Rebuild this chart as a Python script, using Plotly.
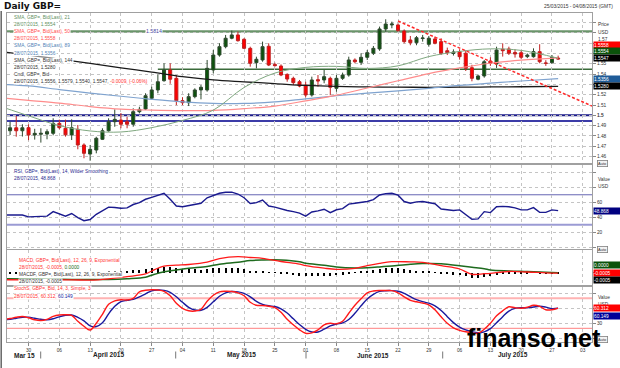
import plotly.graph_objects as go
from plotly.subplots import make_subplots
import pandas as pd

# ---------------- data ----------------
dates = [d.strftime("%Y-%m-%d") for d in pd.bdate_range("2015-03-25", "2015-07-28")]
ind_dates = [d.strftime("%Y-%m-%d") for d in pd.bdate_range("2015-03-24", "2015-07-28")]

open_ = [1.4850, 1.4879, 1.4850, 1.4880, 1.4809, 1.4816, 1.4818, 1.4825, 1.4922, 1.4874,
         1.4809, 1.4864, 1.4712, 1.4624, 1.4663, 1.4767, 1.4850, 1.4938, 1.4954, 1.4938,
         1.4913, 1.5035, 1.5061, 1.5165, 1.5246, 1.5336, 1.5440, 1.5359, 1.5142, 1.5122,
         1.5181, 1.5246, 1.5246, 1.5440, 1.5585, 1.5666, 1.5748, 1.5780, 1.5738, 1.5650,
         1.5511, 1.5537, 1.5670, 1.5494, 1.5478, 1.5397, 1.5359, 1.5326, 1.5294, 1.5197,
         1.5346, 1.5343, 1.5359, 1.5262, 1.5359, 1.5391, 1.5537, 1.5514, 1.5563, 1.5602,
         1.5644, 1.5838, 1.5877, 1.5877, 1.5818, 1.5731, 1.5705, 1.5745, 1.5689, 1.5741,
         1.5715, 1.5627, 1.5600, 1.5618, 1.5602, 1.5462, 1.5350, 1.5382, 1.5527, 1.5498,
         1.5641, 1.5644, 1.5610, 1.5608, 1.5570, 1.5569, 1.5618, 1.5508, 1.5511, 1.5556]
high = [1.4938, 1.4993, 1.4913, 1.4913, 1.4869, 1.4874, 1.4864, 1.4971, 1.4958, 1.4958,
        1.4961, 1.4906, 1.4728, 1.4712, 1.4792, 1.4874, 1.4971, 1.5058, 1.5022, 1.4986,
        1.5068, 1.5083, 1.5214, 1.5278, 1.5395, 1.5505, 1.5505, 1.5390, 1.5175, 1.5214,
        1.5262, 1.5294, 1.5537, 1.5634, 1.5699, 1.5780, 1.5822, 1.5812, 1.5748, 1.5666,
        1.5569, 1.5715, 1.5699, 1.5511, 1.5494, 1.5407, 1.5375, 1.5343, 1.5326, 1.5375,
        1.5391, 1.5440, 1.5375, 1.5391, 1.5414, 1.5569, 1.5553, 1.5602, 1.5634, 1.5673,
        1.5861, 1.5932, 1.5909, 1.5893, 1.5834, 1.5770, 1.5770, 1.5780, 1.5770, 1.5764,
        1.5748, 1.5657, 1.5640, 1.5640, 1.5630, 1.5490, 1.5395, 1.5537, 1.5563, 1.5666,
        1.5699, 1.5666, 1.5640, 1.5630, 1.5600, 1.5650, 1.5690, 1.5535, 1.5585, 1.5579]
low = [1.4809, 1.4792, 1.4794, 1.4759, 1.4764, 1.4735, 1.4767, 1.4806, 1.4864, 1.4793,
       1.4760, 1.4670, 1.4583, 1.4559, 1.4631, 1.4760, 1.4841, 1.4889, 1.4874, 1.4874,
       1.4889, 1.5019, 1.5051, 1.5149, 1.5214, 1.5326, 1.5306, 1.5099, 1.5099, 1.5090,
       1.5165, 1.5155, 1.5230, 1.5408, 1.5569, 1.5650, 1.5738, 1.5715, 1.5644, 1.5472,
       1.5456, 1.5520, 1.5478, 1.5472, 1.5380, 1.5326, 1.5294, 1.5272, 1.5175, 1.5181,
       1.5278, 1.5311, 1.5197, 1.5229, 1.5343, 1.5375, 1.5505, 1.5488, 1.5537, 1.5585,
       1.5626, 1.5812, 1.5845, 1.5812, 1.5699, 1.5680, 1.5680, 1.5715, 1.5666, 1.5689,
       1.5585, 1.5585, 1.5580, 1.5540, 1.5430, 1.5330, 1.5340, 1.5365, 1.5480, 1.5460,
       1.5570, 1.5585, 1.5560, 1.5545, 1.5555, 1.5560, 1.5505, 1.5480, 1.5500, 1.5540]
close = [1.4879, 1.4850, 1.4879, 1.4809, 1.4825, 1.4825, 1.4841, 1.4922, 1.4880, 1.4810,
         1.4880, 1.4712, 1.4631, 1.4670, 1.4777, 1.4850, 1.4938, 1.4961, 1.4913, 1.4913,
         1.5035, 1.5058, 1.5190, 1.5246, 1.5326, 1.5440, 1.5350, 1.5142, 1.5122, 1.5181,
         1.5246, 1.5272, 1.5456, 1.5585, 1.5666, 1.5748, 1.5780, 1.5724, 1.5650, 1.5505,
         1.5544, 1.5666, 1.5488, 1.5482, 1.5391, 1.5352, 1.5317, 1.5284, 1.5197, 1.5343,
         1.5333, 1.5375, 1.5272, 1.5359, 1.5391, 1.5537, 1.5520, 1.5563, 1.5608, 1.5650,
         1.5838, 1.5886, 1.5886, 1.5822, 1.5715, 1.5705, 1.5753, 1.5750, 1.5748, 1.5699,
         1.5602, 1.5608, 1.5615, 1.5569, 1.5456, 1.5359, 1.5382, 1.5520, 1.5505, 1.5634,
         1.5627, 1.5602, 1.5595, 1.5563, 1.5585, 1.5618, 1.5520, 1.5505, 1.5563, 1.5547]

sma_dates = ["2015-03-24", "2015-03-30", "2015-04-06", "2015-04-13", "2015-04-20", "2015-04-27",
             "2015-05-04", "2015-05-11", "2015-05-18", "2015-05-25", "2015-06-01", "2015-06-08",
             "2015-06-15", "2015-06-22", "2015-06-29", "2015-07-06", "2015-07-13", "2015-07-20",
             "2015-07-28"]
sma21 = [1.5075, 1.4995, 1.4900, 1.4848, 1.4838, 1.4880, 1.4950, 1.5050, 1.5270, 1.5410,
         1.5465, 1.5475, 1.5455, 1.5480, 1.5570, 1.5620, 1.5645, 1.5630, 1.5554]
sma50 = [1.5168, 1.5145, 1.5118, 1.5085, 1.5060, 1.5050, 1.5045, 1.5048, 1.5065, 1.5090,
         1.5140, 1.5195, 1.5265, 1.5335, 1.5405, 1.5460, 1.5505, 1.5535, 1.5558]
sma89 = [1.5300, 1.5285, 1.5250, 1.5215, 1.5185, 1.5155, 1.5130, 1.5115, 1.5115, 1.5130,
         1.5160, 1.5190, 1.5215, 1.5238, 1.5262, 1.5290, 1.5312, 1.5333, 1.5356]
sma144 = [1.5615, 1.5585, 1.5545, 1.5505, 1.5460, 1.5420, 1.5375, 1.5343, 1.5325, 1.5308,
          1.5290, 1.5280, 1.5276, 1.5273, 1.5272, 1.5273, 1.5275, 1.5277, 1.5280]

level_green = 1.5814
support_start = "2015-04-28"
support_level = 1.5447
blue_levels = [1.5000, 1.4945]
trend_x = ["2015-06-22", "2015-08-04 12:00"]
trend_y = [1.5915, 1.5090]

rsi = [43, 43, 42, 43, 40.5, 41, 41, 41.5, 47.5, 45, 41.5, 45, 39.5, 35.5, 37, 44, 49, 53.5, 53, 52,
       52.5, 57, 59.5, 64, 66.5, 69.5, 72, 64, 55, 54, 55.5, 57.5, 58.7, 66, 69.5, 72, 73.3, 73.5,
       71, 66, 58.5, 59.5, 63, 55, 53.5, 51, 49, 47.5, 45.5, 41.5, 47, 48.5, 50.7, 46.2, 50, 51.5,
       57.5, 58.7, 59.5, 61, 63.5, 69.7, 71.5, 72, 69.5, 61, 58.7, 60.5, 61, 60, 58, 51, 49.5, 49,
       49.8, 43, 37.3, 37.8, 47.5, 46.2, 54, 54.5, 54, 52.5, 49.8, 49.8, 52.9, 46.7, 46.5, 49.8,
       48.868]
rsi_levels = [70, 30]

macd_dates = ["2015-03-24", "2015-03-30", "2015-04-02", "2015-04-08", "2015-04-13", "2015-04-16",
              "2015-04-21", "2015-04-24", "2015-04-27", "2015-04-29", "2015-05-01", "2015-05-05",
              "2015-05-08", "2015-05-12", "2015-05-15", "2015-05-19", "2015-05-21", "2015-05-26",
              "2015-05-29", "2015-06-01", "2015-06-04", "2015-06-08", "2015-06-11", "2015-06-15",
              "2015-06-17", "2015-06-19", "2015-06-24", "2015-06-26", "2015-07-01", "2015-07-06",
              "2015-07-08", "2015-07-10", "2015-07-13", "2015-07-16", "2015-07-21", "2015-07-24",
              "2015-07-28"]
macd = [-0.0070, -0.0072, -0.0074, -0.0071, -0.0075, -0.0062, -0.0040, -0.0012, 0.0017, 0.0065,
        0.0075, 0.0082, 0.0105, 0.0140, 0.0160, 0.0152, 0.0144, 0.0112, 0.0085, 0.0070, 0.0045,
        0.0034, 0.0044, 0.0070, 0.0094, 0.0110, 0.0108, 0.0104, 0.0070, 0.0037, -0.0016, -0.0010,
        -0.0006, 0.0012, 0.0007, -0.0002, -0.0005]
signal = [-0.0060, -0.0063, -0.0065, -0.0067, -0.0069, -0.0068, -0.0060, -0.0045, -0.0025, 0.0010,
          0.0028, 0.0045, 0.0062, 0.0085, 0.0105, 0.0122, 0.0127, 0.0127, 0.0110, 0.0095, 0.0075,
          0.0058, 0.0048, 0.0050, 0.0058, 0.0068, 0.0085, 0.0092, 0.0090, 0.0070, 0.0055, 0.0040,
          0.0028, 0.0018, 0.0012, 0.0005, 0.0000]
hist = [-0.0010, -0.0010, -0.0008, -0.0010, -0.0012, -0.0012, -0.0010, -0.0005, -0.0005, -0.0006,
        -0.0004, -0.0008, -0.0012, -0.0010, -0.0004, 0.0002, 0.0010, 0.0015, 0.0016, 0.0018,
        0.0025, 0.0030, 0.0038, 0.0044, 0.0050, 0.0057, 0.0055, 0.0045, 0.0038, 0.0035,
        0.0034, 0.0032, 0.0040, 0.0045, 0.0050, 0.0052, 0.0050, 0.0045, 0.0035, 0.0022,
        0.0015, 0.0014, 0.0005, -0.0002, -0.0010, -0.0017, -0.0023, -0.0028, -0.0035, -0.0032,
        -0.0030, -0.0028, -0.0030, -0.0025, -0.0018, -0.0005, 0.0005, 0.0012, 0.0020, 0.0028,
        0.0040, 0.0048, 0.0050, 0.0045, 0.0035, 0.0025, 0.0020, 0.0015, 0.0010, 0.0002,
        -0.0010, -0.0015, -0.0018, -0.0020, -0.0030, -0.0048, -0.0050, -0.0045, -0.0035, -0.0022,
        -0.0012, -0.0008, -0.0006, -0.0006, -0.0004, -0.0002, -0.0005, -0.0006, -0.0004, -0.0005]

stoch_k = [38, 39.5, 42, 43.5, 41, 37, 35.5, 38, 44, 46.7, 47, 46, 34, 24, 16.5, 30, 48, 68, 75, 77,
           76.7, 80, 93, 96, 97, 96.5, 94, 85, 70, 60, 55, 54.5, 58, 74, 86, 93, 94, 93.5, 91, 85,
           72, 66, 65.5, 64, 61.5, 52, 38, 27, 17, 10, 11, 17, 27, 30, 29, 34, 50, 66, 79, 91,
           94.5, 95.5, 95.5, 95.3, 91, 83, 76, 73, 70.5, 67, 57, 43, 30, 21, 16, 13, 11, 10, 18,
           30, 45, 55, 63, 61, 60, 62, 66, 64, 57, 57, 60.312]
stoch_d = [37.5, 38, 40, 42, 42, 40, 38, 37, 39, 43, 46, 46.5, 42, 35, 25, 23.5, 31, 49, 64, 73.5,
           76, 78, 83, 89, 95, 96.5, 95.8, 92, 83, 72, 62, 56.5, 56, 62, 73, 84, 91, 93.5, 92.8,
           90, 83, 74, 68, 65, 63.5, 59, 50.5, 39, 27.5, 18, 12.7, 12.7, 18.3, 24.7, 28.7, 31,
           37.7, 50, 65, 78.7, 88, 93.7, 95.2, 95.4, 94, 89.8, 83.3, 77.3, 73.2, 70.2, 64.8, 55.7,
           43.3, 31.3, 22.3, 16.7, 13.3, 11.3, 13, 19.3, 31, 43.3, 54.3, 59.7, 61.3, 61, 62.7, 64,
           62.3, 59.3, 60.149]
stoch_levels = [80, 20]

mondays = ["2015-03-30", "2015-04-06", "2015-04-13", "2015-04-20", "2015-04-27", "2015-05-04",
           "2015-05-11", "2015-05-18", "2015-05-25", "2015-06-01", "2015-06-08", "2015-06-15",
           "2015-06-22", "2015-06-29", "2015-07-06", "2015-07-13", "2015-07-20", "2015-07-27",
           "2015-08-03"]
day_labels = ["30", "06", "13", "20", "27", "04", "11", "18", "25", "01", "08", "15", "22", "29",
              "06", "13", "20", "27", "03"]
month_labels = ["Mar 15", "April 2015", "May 2015", "June 2015", "July 2015"]

price_ticks = [1.46, 1.47, 1.48, 1.49, 1.50, 1.51, 1.52, 1.53, 1.54, 1.55, 1.56, 1.57, 1.58, 1.59]
price_tick_text = ["1.46", "1.47", "1.48", "1.49", "<b>1.5</b>", "1.51", "1.52", "1.53", "1.54",
                   "1.55", "", "", "", ""]
rsi_ticks = [0, 20, 40, 60, 80, 100]
rsi_tick_text = ["", "20", "40", "60", "", ""]
stoch_ticks = [0, 30, 60, 90]
stoch_tick_text = ["", "30", "", ""]

# ---------------- layout helpers ----------------
W, H = 620, 368
ML, MR, MT, MB = 7, 28, 13, 26
PW, PH = W - ML - MR, H - MT - MB
FONT = "Liberation Sans, Arial, sans-serif"


def px(x):
    return (x - ML) / PW


def py(y):
    return 1 - (y - MT) / PH


fig = make_subplots(rows=4, cols=1, shared_xaxes=True, vertical_spacing=0.01)

# price panel
fig.add_trace(go.Candlestick(
    x=dates, open=open_, high=high, low=low, close=close,
    increasing=dict(fillcolor="#0b520b", line=dict(color="#2f4a2f", width=1)),
    decreasing=dict(fillcolor="#ff0000", line=dict(color="#c02020", width=1)),
    whiskerwidth=0), row=1, col=1)
for vals, col, w in [(sma144, "#1a1a1a", 1.3), (sma89, "#7fa3cf", 1.2),
                     (sma50, "#ff8c8c", 1.2), (sma21, "#80a880", 1.0)]:
    fig.add_trace(go.Scatter(x=sma_dates, y=vals, mode="lines",
                             line=dict(color=col, width=w, shape="spline")), row=1, col=1)
fig.add_trace(go.Scatter(x=trend_x, y=trend_y, mode="lines",
                         line=dict(color="#ff2a2a", width=1.5, dash="3px,2px")), row=1, col=1)

fig.add_shape(type="line", xref="x domain", yref="y", x0=0, x1=1, y0=level_green, y1=level_green,
              line=dict(color="#6b946b", width=2.5), layer="below")
fig.add_shape(type="line", xref="x", yref="y", x0=support_start, x1="2015-08-04 12:00",
              y0=support_level, y1=support_level, line=dict(color="#3a6b3a", width=1.5), layer="below")
for v, c in zip(blue_levels, ["#1c1c8a", "#3c3ca8"]):
    fig.add_shape(type="line", xref="x domain", yref="y", x0=0, x1=1, y0=v, y1=v,
                  line=dict(color=c, width=2), layer="below")

# RSI panel
for v, c, w in zip(rsi_levels, ["#6666b3", "#9b9bd4"], [1, 2]):
    fig.add_shape(type="line", xref="x2 domain", yref="y2", x0=0, x1=1, y0=v, y1=v,
                  line=dict(color=c, width=w), layer="below")
fig.add_trace(go.Scatter(x=ind_dates, y=rsi, mode="lines",
                         line=dict(color="#1a1a8e", width=1.4)), row=2, col=1)

# MACD panel
fig.add_trace(go.Bar(x=dates, y=hist, marker=dict(color="#000000", line=dict(width=0)),
                     width=0.18 * 86400000), row=3, col=1)
fig.add_trace(go.Scatter(x=macd_dates, y=signal, mode="lines",
                         line=dict(color="#1e6b1e", width=1.5, shape="spline")), row=3, col=1)
fig.add_trace(go.Scatter(x=macd_dates, y=macd, mode="lines",
                         line=dict(color="#ff1a1a", width=1.3, shape="spline")), row=3, col=1)

# Stochastic panel
for v, c, w in zip(stoch_levels, ["#ffb3b3", "#ff8080"], [2, 1]):
    fig.add_shape(type="line", xref="x4 domain", yref="y4", x0=0, x1=1, y0=v, y1=v,
                  line=dict(color=c, width=w), layer="below")
fig.add_trace(go.Scatter(x=ind_dates, y=stoch_d, mode="lines",
                         line=dict(color="#1a1a9e", width=1.4, shape="spline")), row=4, col=1)
fig.add_trace(go.Scatter(x=ind_dates, y=stoch_k, mode="lines",
                         line=dict(color="#ff1a1a", width=1.4, shape="spline")), row=4, col=1)

# axes
fig.update_xaxes(rangebreaks=[dict(bounds=["sat", "mon"])],
                 range=["2015-03-24 12:00", "2015-08-04 12:00"],
                 tickmode="array", tickvals=mondays, ticktext=day_labels,
                 showgrid=True, gridcolor="#c4c4c4", griddash="dot", gridwidth=1,
                 showline=True, mirror=True, linecolor="#a0a0a0", linewidth=1,
                 ticks="", showticklabels=False, rangeslider=dict(visible=False), zeroline=False)
fig.update_xaxes(showticklabels=True, ticks="outside", ticklen=3, tickcolor="#888888",
                 tickfont=dict(family=FONT, size=4.8, color="#333333"), row=4, col=1)

yax_common = dict(side="right", showline=True, mirror=True, linecolor="#a0a0a0", linewidth=1,
                  ticks="outside", ticklen=3, tickcolor="#888888", zeroline=False,
                  tickfont=dict(family=FONT, size=4.8, color="#333333"),
                  gridcolor="#c4c4c4", griddash="dot", gridwidth=1, tickmode="array")
fig.update_layout(
    yaxis=dict(domain=[py(163), py(13)], range=[1.4537, 1.5993], tickvals=price_ticks,
               ticktext=price_tick_text, **yax_common),
    yaxis2=dict(domain=[py(249), py(165)], range=[-2.3, 109.7], tickvals=rsi_ticks,
                ticktext=rsi_tick_text, **yax_common),
    yaxis3=dict(domain=[py(285), py(250)], range=[-0.0123, 0.0227], tickvals=[0],
                ticktext=[""], showgrid=False, **{k: v for k, v in yax_common.items()
                                                  if k not in ("gridcolor", "griddash", "gridwidth")}),
    yaxis4=dict(domain=[py(342), py(287)], range=[-7.4, 102.6], tickvals=stoch_ticks,
                ticktext=stoch_tick_text, **yax_common),
)


def ann(x, y, text, color="#333333", size=4.8, xanchor="left", bg="white", bold=False, family=FONT):
    fig.add_annotation(xref="paper", yref="paper", x=px(x), y=py(y), text=text, showarrow=False,
                       xanchor=xanchor, yanchor="middle",
                       font=dict(family=family, size=size, color=color),
                       bgcolor=bg, borderpad=0)


# title & range
ann(3, 6.5, "<b>Daily GBP=</b>", "#111111", 9, family="DejaVu Sans, sans-serif", bg="rgba(0,0,0,0)")
ann(614, 7, "25/03/2015 - 04/08/2015 (GMT)", "#333333", 4.9, xanchor="right", bg="rgba(0,0,0,0)")

# price legend
leg = [("SMA, GBP=, Bid(Last), 21", "#5f915f"), ("28/07/2015, 1.5554", "#5f915f"),
       ("SMA, GBP=, Bid(Last), 50", "#ff4d4d"), ("28/07/2015, 1.5558", "#ff4d4d"),
       ("SMA, GBP=, Bid(Last), 89", "#4f7fb5"), ("28/07/2015, 1.5356", "#4f7fb5"),
       ("SMA, GBP=, Bid(Last), 144", "#333333"), ("28/07/2015, 1.5280", "#333333"),
       ("Cndl, GBP=, Bid", "#333333"),
       ("28/07/2015, 1.5556, 1.5579, 1.5540, 1.5547, "
        "<span style='color:#ff3030'>-0.0009, (-0.06%)</span>", "#333333")]
for i, (t, c) in enumerate(leg):
    ann(12.5, 17.3 + i * 7.15, t, c)
ann(145, 30.6, "1.5814", "#4848a0", 5.2)

# RSI legend
ann(12.5, 171, "RSI, GBP=, Bid(Last), 14, Wilder Smoothing", "#2b2b8f")
ann(12.5, 178.5, "28/07/2015, 48.868", "#2b2b8f")
# MACD legend
ann(18, 260.7, "MACD, GBP=, Bid(Last), 12, 26, 9, Exponential", "#ff3333")
ann(18, 267.5, "28/07/2015, -0.0005, <span style='color:#1e6b1e'>0.0000</span>", "#ff3333")
ann(18, 274.3, "MACDF, GBP=, Bid(Last), 12, 26, 9, Exponential", "#333333")
ann(18, 281.3, "28/07/2015, -0.0005", "#333333")
# Stoch legend
ann(12.5, 288.6, "StochS, GBP=, Bid, 14, 3, Simple, 3", "#ff3333")
ann(12.5, 296.4, "28/07/2015, 60.312, <span style='color:#1a1a9e'>60.149</span>", "#ff3333")

# right side captions
for y, t in [(24.3, "Price"), (32.3, "USD"), (39.5, "1.57"), (179, "Value"), (186, "USD"),
             (297.3, "Value"), (304, "USD")]:
    ann(597, y, t, "#333333", 4.8, bg="rgba(0,0,0,0)")


def tag(y, text, bg):
    fig.add_annotation(xref="paper", yref="paper", x=px(593), y=py(y), text=text, showarrow=False,
                       xanchor="left", yanchor="middle", align="left", width=26, height=6,
                       font=dict(family=FONT, size=4.8, color="white"), bgcolor=bg, borderpad=0)


for y, t, c in [(44.8, "1.5558", "#ff0000"), (51.2, "1.5554", "#0b520b"), (58.3, "1.5547", "#000000"),
                (79, "1.5356", "#1f5c99"), (86, "1.5280", "#000000"),
                (210.7, "48.868", "#000080"),
                (265, "0.0000", "#0b520b"), (272.7, "-0.0005", "#ff0000"), (280, "-0.0005", "#000000"),
                (308.3, "60.312", "#ff0000"), (315.7, "60.149", "#000099")]:
    tag(y, t, c)

for y in [163.5, 249.5, 339.5]:
    fig.add_annotation(xref="paper", yref="paper", x=px(602), y=py(y), text="Auto", showarrow=False,
                       xanchor="center", yanchor="middle",
                       font=dict(family=FONT, size=4, color="#333333"),
                       bgcolor="#f2f2f2", bordercolor="#808080", borderwidth=0.8, borderpad=0.3)

# month labels and separators
for x, t in zip([24, 108, 241, 373, 513], month_labels):
    ann(x, 355, "<b>" + t + "</b>", "#222222", 6.5, xanchor="center", bg="rgba(0,0,0,0)")
for x in [40.7, 175.7, 306, 442.7]:
    fig.add_shape(type="line", xref="paper", yref="paper", x0=px(x), x1=px(x), y0=py(351.5),
                  y1=py(358.5), line=dict(color="#777777", width=1))

# window border
fig.add_shape(type="line", xref="paper", yref="paper", x0=px(1.2), x1=px(1.2), y0=py(368), y1=py(11),
              line=dict(color="#666666", width=1.5))

# watermark
fig.add_annotation(xref="paper", yref="paper", x=px(534), y=py(338), text="<b>finanso.net</b>",
                   showarrow=False, xanchor="center", yanchor="middle",
                   font=dict(family=FONT, size=25, color="#000000"))

fig.update_layout(width=W, height=H, margin=dict(l=ML, r=MR, t=MT, b=MB), showlegend=False,
                  paper_bgcolor="white", plot_bgcolor="white", bargap=0)

fig.write_html("out.html", config={"displayModeBar": False},
               post_script="document.body.style.margin='0';")
